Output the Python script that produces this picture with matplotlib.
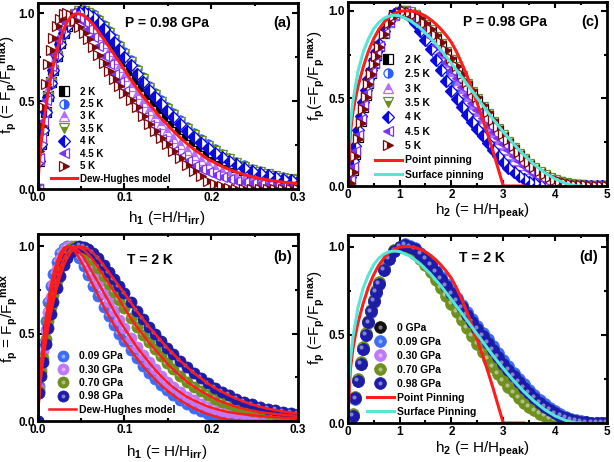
import numpy as np
import matplotlib.pyplot as plt
from matplotlib.ticker import MultipleLocator, FormatStrFormatter
from matplotlib.transforms import offset_copy
from matplotlib.legend_handler import HandlerTuple
from matplotlib.colors import to_rgb

plt.rcParams['font.family'] = ['Liberation Sans', 'DejaVu Sans']
plt.rcParams['font.weight'] = 'bold'
plt.rcParams['mathtext.fontset'] = 'custom'
plt.rcParams['mathtext.rm'] = 'Liberation Sans:bold'
plt.rcParams['mathtext.it'] = 'Liberation Sans:bold'
plt.rcParams['mathtext.bf'] = 'Liberation Sans:bold'
plt.rcParams['mathtext.default'] = 'bf'
plt.rcParams['axes.linewidth'] = 2

# ---- h1 = H/Hirr grid, panels (a) and (b)
h1 = [0.0, 0.002, 0.004, 0.006, 0.009, 0.012, 0.015, 0.018, 0.022, 0.026, 0.030, 0.034, 0.038,
      0.043, 0.048, 0.053, 0.058, 0.064, 0.070, 0.076, 0.082, 0.088, 0.094, 0.100, 0.107, 0.114,
      0.121, 0.128, 0.135, 0.142, 0.149, 0.156, 0.164, 0.172, 0.180, 0.188, 0.196, 0.204, 0.212,
      0.220, 0.229, 0.238, 0.247, 0.256, 0.265, 0.274, 0.283, 0.292, 0.300]

# panel (a): P = 0.98 GPa, different temperatures
a_2K = [0.0, 0.16, 0.26, 0.34, 0.44, 0.53, 0.61, 0.68, 0.76, 0.83, 0.89, 0.93, 0.965, 0.99, 1.0,
        0.995, 0.985, 0.96, 0.93, 0.89, 0.85, 0.81, 0.77, 0.73, 0.68, 0.63, 0.585, 0.54, 0.50, 0.46,
        0.42, 0.385, 0.345, 0.31, 0.275, 0.245, 0.215, 0.19, 0.168, 0.148, 0.128, 0.11, 0.095,
        0.082, 0.071, 0.062, 0.054, 0.048, 0.043]
a_2p5K = [0.0, 0.16, 0.255, 0.335, 0.435, 0.52, 0.60, 0.675, 0.755, 0.825, 0.885, 0.93, 0.97,
          0.995, 1.015, 1.02, 1.01, 0.995, 0.97, 0.935, 0.9, 0.86, 0.82, 0.78, 0.735, 0.685, 0.64,
          0.59, 0.55, 0.51, 0.47, 0.435, 0.393, 0.357, 0.32, 0.286, 0.257, 0.227, 0.2, 0.18, 0.157,
          0.137, 0.118, 0.103, 0.09, 0.079, 0.069, 0.061, 0.054]
a_3K = [0.0, 0.17, 0.28, 0.36, 0.47, 0.57, 0.65, 0.72, 0.80, 0.88, 0.925, 0.965, 0.988, 1.0, 0.993,
        0.98, 0.955, 0.92, 0.875, 0.83, 0.785, 0.74, 0.695, 0.645, 0.59, 0.54, 0.495, 0.45, 0.41,
        0.37, 0.33, 0.295, 0.26, 0.225, 0.195, 0.168, 0.144, 0.122, 0.104, 0.088, 0.073, 0.061,
        0.051, 0.043, 0.036, 0.031, 0.026, 0.022, 0.019]
a_3p5K = [0.0, 0.16, 0.257, 0.337, 0.437, 0.523, 0.603, 0.677, 0.757, 0.827, 0.887, 0.931, 0.969,
          0.995, 1.012, 1.015, 1.005, 0.987, 0.96, 0.925, 0.888, 0.848, 0.808, 0.768, 0.722, 0.672,
          0.627, 0.578, 0.538, 0.498, 0.458, 0.423, 0.382, 0.346, 0.31, 0.277, 0.247, 0.219, 0.193,
          0.172, 0.15, 0.13, 0.113, 0.098, 0.086, 0.075, 0.066, 0.058, 0.052]
a_4K = [0.0, 0.16, 0.258, 0.338, 0.438, 0.525, 0.605, 0.678, 0.758, 0.828, 0.888, 0.93, 0.968,
        0.993, 1.008, 1.008, 0.998, 0.978, 0.95, 0.913, 0.875, 0.835, 0.795, 0.755, 0.708, 0.658,
        0.613, 0.565, 0.525, 0.485, 0.445, 0.41, 0.369, 0.334, 0.298, 0.266, 0.236, 0.209, 0.184,
        0.164, 0.143, 0.124, 0.107, 0.093, 0.081, 0.071, 0.062, 0.055, 0.049]
a_4p5K = [0.0, 0.18, 0.29, 0.39, 0.51, 0.61, 0.70, 0.77, 0.855, 0.915, 0.96, 0.988, 1.0, 0.994,
          0.977, 0.95, 0.91, 0.865, 0.815, 0.76, 0.71, 0.655, 0.61, 0.56, 0.505, 0.455, 0.41, 0.365,
          0.32, 0.285, 0.25, 0.22, 0.187, 0.16, 0.135, 0.115, 0.098, 0.083, 0.071, 0.06, 0.05,
          0.043, 0.036, 0.03, 0.025, 0.021, 0.018, 0.015, 0.013]
a_5K = [0.0, 0.22, 0.36, 0.47, 0.60, 0.71, 0.79, 0.86, 0.93, 0.97, 0.995, 1.0, 0.99, 0.96, 0.925,
        0.89, 0.855, 0.81, 0.765, 0.72, 0.675, 0.63, 0.59, 0.55, 0.51, 0.47, 0.42, 0.37, 0.33,
        0.295, 0.26, 0.22, 0.18, 0.14, 0.105, 0.075, 0.05, 0.032, 0.018, 0.008, 0.002, 0.0, 0.0,
        0.0, 0.0, 0.0, 0.0, 0.0, 0.0]
a_dew = [0.0, 0.165, 0.27, 0.35, 0.455, 0.55, 0.635, 0.705, 0.785, 0.855, 0.91, 0.953, 0.98, 0.997,
         0.998, 0.988, 0.968, 0.937, 0.897, 0.855, 0.812, 0.768, 0.725, 0.68, 0.627, 0.578, 0.531,
         0.488, 0.447, 0.405, 0.37, 0.333, 0.295, 0.26, 0.228, 0.2, 0.172, 0.152, 0.132, 0.115,
         0.098, 0.084, 0.072, 0.062, 0.054, 0.047, 0.041, 0.037, 0.034]

# panel (b): T = 2 K, different pressures
b_009 = [0.0, 0.2, 0.33, 0.44, 0.57, 0.68, 0.77, 0.84, 0.91, 0.96, 0.99, 1.0, 0.995, 0.97, 0.93,
         0.885, 0.835, 0.775, 0.715, 0.655, 0.6, 0.55, 0.5, 0.455, 0.405, 0.36, 0.315, 0.275, 0.24,
         0.205, 0.175, 0.148, 0.12, 0.095, 0.073, 0.055, 0.04, 0.027, 0.016, 0.008, 0.003, 0.0, 0.0,
         0.0, 0.0, 0.0, 0.0, 0.0, 0.0]
b_030 = [0.0, 0.185, 0.30, 0.40, 0.52, 0.625, 0.71, 0.785, 0.87, 0.928, 0.97, 0.993, 1.0, 0.99,
         0.967, 0.935, 0.893, 0.84, 0.79, 0.735, 0.683, 0.628, 0.578, 0.53, 0.477, 0.425, 0.38,
         0.337, 0.295, 0.258, 0.224, 0.193, 0.165, 0.138, 0.118, 0.1, 0.083, 0.071, 0.06, 0.051,
         0.044, 0.038, 0.033, 0.029, 0.025, 0.022, 0.019, 0.017, 0.015]
b_070 = [0.0, 0.17, 0.28, 0.36, 0.47, 0.57, 0.65, 0.72, 0.80, 0.88, 0.925, 0.965, 0.988, 1.0, 0.993,
         0.98, 0.955, 0.92, 0.875, 0.83, 0.785, 0.74, 0.695, 0.645, 0.59, 0.54, 0.495, 0.45, 0.41,
         0.37, 0.33, 0.295, 0.26, 0.225, 0.197, 0.172, 0.149, 0.128, 0.111, 0.096, 0.081, 0.069,
         0.06, 0.051, 0.045, 0.04, 0.036, 0.032, 0.029]
b_098 = [0.0, 0.16, 0.26, 0.34, 0.44, 0.53, 0.61, 0.68, 0.76, 0.83, 0.89, 0.93, 0.965, 0.99, 1.0,
         0.995, 0.985, 0.96, 0.93, 0.89, 0.85, 0.81, 0.77, 0.73, 0.68, 0.63, 0.585, 0.54, 0.50,
         0.46, 0.42, 0.385, 0.345, 0.31, 0.275, 0.245, 0.215, 0.19, 0.168, 0.148, 0.128, 0.11,
         0.095, 0.082, 0.071, 0.062, 0.054, 0.048, 0.043]

# ---- h2 = H/Hpeak grid, panels (c) and (d)
h2 = [0.0, 0.05, 0.1, 0.15, 0.2, 0.25, 0.3, 0.35, 0.4, 0.45, 0.5, 0.55,
      0.6, 0.7, 0.8, 0.9, 1.0, 1.1, 1.2, 1.3, 1.4, 1.5,
      1.6, 1.7, 1.8, 1.9, 2.0, 2.1, 2.2, 2.3, 2.4, 2.5,
      2.6, 2.7, 2.8, 2.9, 3.0, 3.1, 3.2, 3.3, 3.4, 3.5,
      3.6, 3.7, 3.8, 3.9, 4.0, 4.1, 4.2, 4.3, 4.4, 4.5,
      4.6, 4.7, 4.8, 4.9, 5.0]

# panel (c): P = 0.98 GPa, different temperatures
c_2K = [0.0, 0.02, 0.09, 0.18, 0.28, 0.37, 0.45, 0.52, 0.59, 0.645, 0.7, 0.75,
        0.8, 0.875, 0.935, 0.975, 0.995, 1.0, 0.99, 0.97, 0.945, 0.915,
        0.88, 0.84, 0.8, 0.755, 0.71, 0.665, 0.618, 0.572, 0.527, 0.483,
        0.44, 0.398, 0.357, 0.318, 0.28, 0.243, 0.208, 0.176, 0.146, 0.119,
        0.095, 0.074, 0.056, 0.041, 0.029, 0.02, 0.013, 0.008, 0.005, 0.003,
        0.002, 0.001, 0.0, 0.0, 0.0]
c_2p5K = [0.0, 0.045, 0.13, 0.22, 0.31, 0.39, 0.47, 0.54, 0.60, 0.655, 0.71, 0.758,
          0.805, 0.88, 0.938, 0.978, 0.998, 0.995, 0.975, 0.945, 0.905, 0.86,
          0.81, 0.755, 0.7, 0.645, 0.592, 0.542, 0.495, 0.45, 0.408, 0.368,
          0.328, 0.288, 0.249, 0.212, 0.177, 0.145, 0.115, 0.089, 0.066, 0.047,
          0.032, 0.02, 0.012, 0.006, 0.003, 0.001, 0.0, 0.0, 0.0, 0.0,
          0.0, 0.0, 0.0, 0.0, 0.0]
c_3K = [0.0, 0.04, 0.12, 0.21, 0.3, 0.385, 0.465, 0.535, 0.6, 0.655, 0.708, 0.756,
        0.803, 0.878, 0.937, 0.977, 0.997, 0.997, 0.98, 0.955, 0.92, 0.88,
        0.835, 0.785, 0.735, 0.685, 0.635, 0.585, 0.538, 0.492, 0.448, 0.405,
        0.363, 0.323, 0.284, 0.247, 0.212, 0.18, 0.15, 0.122, 0.097, 0.075,
        0.056, 0.04, 0.027, 0.017, 0.01, 0.005, 0.002, 0.001, 0.0, 0.0,
        0.0, 0.0, 0.0, 0.0, 0.0]
c_3p5K = [0.0, 0.018, 0.085, 0.175, 0.275, 0.365, 0.445, 0.515, 0.585, 0.642, 0.697, 0.747,
          0.797, 0.872, 0.932, 0.972, 0.992, 1.0, 0.992, 0.975, 0.952, 0.922,
          0.888, 0.85, 0.81, 0.766, 0.722, 0.677, 0.63, 0.584, 0.539, 0.495,
          0.452, 0.409, 0.368, 0.328, 0.29, 0.253, 0.218, 0.185, 0.155, 0.127,
          0.103, 0.081, 0.062, 0.046, 0.033, 0.023, 0.016, 0.01, 0.006, 0.004,
          0.002, 0.001, 0.0, 0.0, 0.0]
c_4K = [0.0, 0.05, 0.14, 0.23, 0.32, 0.40, 0.48, 0.55, 0.61, 0.665, 0.72, 0.765,
        0.81, 0.885, 0.94, 0.98, 1.0, 0.99, 0.965, 0.93, 0.885, 0.835,
        0.78, 0.72, 0.66, 0.6, 0.545, 0.495, 0.45, 0.405, 0.365, 0.325,
        0.285, 0.245, 0.205, 0.17, 0.135, 0.105, 0.078, 0.056, 0.038, 0.025,
        0.015, 0.008, 0.004, 0.001, 0.0, 0.0, 0.0, 0.0, 0.0, 0.0,
        0.0, 0.0, 0.0, 0.0, 0.0]
c_4p5K = [0.0, 0.035, 0.11, 0.2, 0.29, 0.38, 0.46, 0.53, 0.595, 0.652, 0.705, 0.753,
          0.8, 0.876, 0.935, 0.975, 0.996, 0.998, 0.985, 0.962, 0.93, 0.893,
          0.851, 0.805, 0.758, 0.71, 0.662, 0.614, 0.567, 0.521, 0.476, 0.433,
          0.391, 0.35, 0.311, 0.273, 0.237, 0.203, 0.171, 0.141, 0.114, 0.09,
          0.069, 0.051, 0.036, 0.024, 0.015, 0.009, 0.005, 0.002, 0.001, 0.0,
          0.0, 0.0, 0.0, 0.0, 0.0]
c_5K = [0.0, 0.015, 0.08, 0.17, 0.27, 0.36, 0.44, 0.51, 0.58, 0.64, 0.695, 0.745,
        0.795, 0.87, 0.93, 0.97, 0.99, 1.0, 0.995, 0.98, 0.958, 0.93,
        0.897, 0.86, 0.82, 0.777, 0.733, 0.688, 0.642, 0.596, 0.551, 0.507,
        0.463, 0.42, 0.378, 0.338, 0.299, 0.262, 0.227, 0.194, 0.163, 0.135,
        0.11, 0.087, 0.068, 0.051, 0.037, 0.026, 0.018, 0.012, 0.008, 0.005,
        0.003, 0.002, 0.001, 0.0, 0.0]

# point pinning and surface pinning curves
pp_h = [0.0, 0.05, 0.1, 0.15, 0.2, 0.3, 0.4, 0.5, 0.6, 0.7, 0.8, 0.9, 1.0, 1.1, 1.2, 1.3, 1.4, 1.5,
        1.6, 1.7, 1.8, 1.9, 2.0, 2.1, 2.2, 2.3, 2.4, 2.5, 2.6, 2.7, 2.8, 2.9, 3.0, 3.2, 3.4]
pp_f = [0.0, 0.3, 0.42, 0.5, 0.57, 0.68, 0.77, 0.84, 0.895, 0.935, 0.965, 0.985, 0.997, 1.0, 1.0,
        0.995, 0.985, 0.97, 0.95, 0.925, 0.895, 0.86, 0.82, 0.765, 0.70, 0.63, 0.55, 0.47, 0.385,
        0.295, 0.2, 0.1, 0.0, 0.0, 0.0]
sp_h = [0.0, 0.02, 0.05, 0.1, 0.2, 0.3, 0.4, 0.5, 0.6, 0.7, 0.8, 0.9, 1.0, 1.2, 1.4, 1.6, 1.8, 2.0,
        2.2, 2.4, 2.6, 2.8, 3.0, 3.2, 3.4, 3.6, 3.8, 4.0, 4.2, 4.4, 4.5]
sp_f = [0.0, 0.23, 0.35, 0.485, 0.657, 0.766, 0.84, 0.897, 0.934, 0.958, 0.971, 0.975, 0.972,
        0.946, 0.902, 0.844, 0.776, 0.70, 0.622, 0.542, 0.462, 0.383, 0.309, 0.24, 0.177, 0.122,
        0.076, 0.04, 0.015, 0.001, 0.0]

# panel (d): T = 2 K, different pressures
d_0 = [0.0, 0.0, 0.042, 0.142, 0.242, 0.337, 0.422, 0.502, 0.572, 0.635, 0.692, 0.744,
       0.792, 0.872, 0.932, 0.976, 1.0, 1.008, 0.997, 0.98, 0.953, 0.922,
       0.886, 0.845, 0.803, 0.762, 0.72, 0.679, 0.638, 0.597, 0.556, 0.515,
       0.474, 0.433, 0.393, 0.353, 0.315, 0.279, 0.244, 0.212, 0.181, 0.152,
       0.126, 0.102, 0.081, 0.063, 0.047, 0.034, 0.023, 0.015, 0.009, 0.005,
       0.002, 0.001, 0.0, 0.0, 0.0]
d_009 = [0.0, 0.0, 0.038, 0.138, 0.238, 0.332, 0.418, 0.497, 0.567, 0.63, 0.687, 0.739,
         0.787, 0.868, 0.928, 0.973, 0.998, 1.012, 1.005, 0.99, 0.966, 0.937,
         0.903, 0.864, 0.825, 0.786, 0.747, 0.708, 0.669, 0.63, 0.591, 0.552,
         0.513, 0.474, 0.435, 0.396, 0.358, 0.321, 0.285, 0.251, 0.219, 0.188,
         0.159, 0.132, 0.107, 0.085, 0.066, 0.049, 0.035, 0.024, 0.015, 0.009,
         0.005, 0.002, 0.001, 0.0, 0.0]
d_030 = [0.0, 0.0, 0.045, 0.145, 0.245, 0.34, 0.425, 0.505, 0.575, 0.638, 0.695, 0.747,
         0.795, 0.875, 0.935, 0.978, 1.0, 1.005, 0.993, 0.973, 0.945, 0.913,
         0.875, 0.833, 0.79, 0.748, 0.705, 0.663, 0.62, 0.578, 0.535, 0.493,
         0.45, 0.409, 0.368, 0.328, 0.29, 0.253, 0.219, 0.188, 0.158, 0.131,
         0.107, 0.085, 0.066, 0.05, 0.036, 0.025, 0.017, 0.011, 0.006, 0.003,
         0.002, 0.001, 0.0, 0.0, 0.0]
d_070 = [0.0, 0.0, 0.05, 0.15, 0.25, 0.345, 0.43, 0.51, 0.58, 0.643, 0.7, 0.752,
         0.8, 0.88, 0.94, 0.98, 1.0, 1.0, 0.985, 0.96, 0.93, 0.895,
         0.855, 0.81, 0.765, 0.72, 0.675, 0.63, 0.585, 0.54, 0.495, 0.45,
         0.405, 0.362, 0.32, 0.28, 0.242, 0.206, 0.173, 0.143, 0.116, 0.092,
         0.071, 0.053, 0.038, 0.026, 0.017, 0.01, 0.006, 0.003, 0.001, 0.0,
         0.0, 0.0, 0.0, 0.0, 0.0]
d_098 = [0.0, 0.0, 0.04, 0.14, 0.24, 0.335, 0.42, 0.5, 0.57, 0.633, 0.69, 0.742,
         0.79, 0.87, 0.93, 0.975, 1.0, 1.01, 1.0, 0.985, 0.96, 0.93,
         0.895, 0.855, 0.815, 0.775, 0.735, 0.695, 0.655, 0.615, 0.575, 0.535,
         0.495, 0.455, 0.415, 0.375, 0.337, 0.3, 0.265, 0.232, 0.2, 0.17,
         0.142, 0.116, 0.093, 0.073, 0.055, 0.04, 0.028, 0.018, 0.011, 0.006,
         0.003, 0.001, 0.0, 0.0, 0.0]

temps = ['2 K', '2.5 K', '3 K', '3.5 K', '4 K', '4.5 K', '5 K']
pressures_b = ['0.09 GPa', '0.30 GPa', '0.70 GPa', '0.98 GPa']
pressures_d = ['0 GPa', '0.09 GPa', '0.30 GPa', '0.70 GPa', '0.98 GPa']

RED = '#ff1c1c'
CYAN = '#55e6d6'
t_styles = [('s', 'black', 'left'), ('o', '#2a5cff', 'right'), ('^', '#b56eff', 'top'),
            ('v', '#6b8e23', 'bottom'), ('D', '#0a0adc', 'left'), ('<', '#7b35f0', 'left'),
            ('>', '#7a0a0a', 'right')]
p_colors = {'0 GPa': '#111111', '0.09 GPa': '#3d6cf5', '0.30 GPa': '#c277f5',
            '0.70 GPa': '#6f8f1f', '0.98 GPa': '#1c1ca8'}

fig = plt.figure(figsize=(6.14, 4.62), dpi=100)
ax_a = fig.add_axes([0.0614, 0.590, 0.424, 0.4037])
ax_c = fig.add_axes([0.5663, 0.5974, 0.4223, 0.398])
ax_b = fig.add_axes([0.0614, 0.0887, 0.424, 0.4048])
ax_d = fig.add_axes([0.5663, 0.0844, 0.4223, 0.407])


def style(ax, xmax, xstep, ytop, xfmt):
    ax.set_xlim(0, xmax)
    ax.set_ylim(0, ytop)
    ax.xaxis.set_major_locator(MultipleLocator(xstep))
    ax.xaxis.set_minor_locator(MultipleLocator(xstep / 2))
    ax.yaxis.set_major_locator(MultipleLocator(0.5))
    ax.yaxis.set_minor_locator(MultipleLocator(0.25))
    ax.xaxis.set_major_formatter(FormatStrFormatter(xfmt))
    ax.yaxis.set_major_formatter(FormatStrFormatter('%.1f'))
    ax.tick_params(which='both', direction='in', top=True, right=True, width=1.5,
                   labelsize=8.5, pad=2)
    ax.tick_params(which='major', length=4)
    ax.tick_params(which='minor', length=2.5)


def labels(ax, xl, yl, xpos, ypos):
    ax.set_xlabel(xl, fontsize=11, va='center')
    ax.set_ylabel(yl, fontsize=11, va='center')
    ax.xaxis.set_label_coords(*xpos)
    ax.yaxis.set_label_coords(*ypos)


def balls(ax, x, series, names, ms):
    # shaded spheres: coloured disc plus a small light spot up-left
    shift = offset_copy(ax.transData, fig=fig, x=-1.3, y=1.3, units='points')
    handles = []
    for lab, y in zip(names, series):
        col = p_colors[lab]
        light = tuple(0.55 * c + 0.45 for c in to_rgb(col))
        main, = ax.plot(x, y, ls='none', marker='o', ms=ms, mfc=col, mec=col, mew=0.5)
        spot, = ax.plot(x, y, ls='none', marker='o', ms=ms * 0.35, mfc=light, mec='none',
                        transform=shift)
        handles.append((main, spot))
    return handles


# (a)
for lab, y, (m, col, fs) in zip(temps, [a_2K, a_2p5K, a_3K, a_3p5K, a_4K, a_4p5K, a_5K], t_styles):
    ax_a.plot(h1, y, ls='none', marker=m, ms=6.5, mfc=col, mfcalt='white', mec=col, mew=0.9,
              fillstyle=fs, label=lab)
ax_a.plot(h1, a_dew, color=RED, lw=2.2, label='Dew-Hughes model')
style(ax_a, 0.3, 0.1, 1.06, '%.1f')
ax_a.legend(loc='lower left', bbox_to_anchor=(0.03, 0.0), frameon=False, fontsize=7,
            handlelength=2.6, handletextpad=0.3, labelspacing=0.25, borderaxespad=0.2,
            numpoints=1)
labels(ax_a, 'h$_1$ (=H/H$_{irr}$)', 'f$_p$ (= F$_p$/F$_p$$^{max}$)', (0.497, -0.153), (-0.11, 0.56))
ax_a.text(0.497, 0.893, 'P = 0.98 GPa', transform=ax_a.transAxes, ha='center', va='center',
          fontsize=10)
ax_a.text(0.94, 0.893, '(a)', transform=ax_a.transAxes, ha='center', va='center', fontsize=10.5)

# (c)
for lab, y, (m, col, fs) in zip(temps, [c_2K, c_2p5K, c_3K, c_3p5K, c_4K, c_4p5K, c_5K], t_styles):
    ax_c.plot(h2, y, ls='none', marker=m, ms=6.5, mfc=col, mfcalt='white', mec=col, mew=0.9,
              fillstyle=fs, label=lab)
ax_c.plot(pp_h, pp_f, color=RED, lw=2.2, label='Point pinning')
ax_c.plot(sp_h, sp_f, color=CYAN, lw=2.2, label='Surface pinning')
style(ax_c, 5, 1, 1.05, '%d')
ax_c.legend(loc='lower left', bbox_to_anchor=(0.08, 0.0), frameon=False, fontsize=7.5,
            handlelength=2.6, handletextpad=0.3, labelspacing=0.42, borderaxespad=0.2,
            numpoints=1)
labels(ax_c, 'h$_2$ (= H/H$_{peak}$)', 'f$_p$(=F$_p$/F$_p$$^{max}$)', (0.52, -0.14), (-0.118, 0.6))
ax_c.text(0.607, 0.891, 'P = 0.98 GPa', transform=ax_c.transAxes, ha='center', va='center',
          fontsize=10)
ax_c.text(0.936, 0.891, '(c)', transform=ax_c.transAxes, ha='center', va='center', fontsize=10.5)

# (b)
hb = balls(ax_b, h1, [b_009, b_030, b_070, b_098], pressures_b, 8)
for i, y in enumerate([b_009, b_030, b_070, b_098]):
    r, = ax_b.plot(h1, y, color=RED, lw=1.8)
    if i == 0:
        red_b = r
style(ax_b, 0.3, 0.1, 1.07, '%.1f')
ax_b.legend(hb + [red_b], pressures_b + ['Dew-Hughes model'], loc='lower left',
            bbox_to_anchor=(0.02, 0.0), frameon=False, fontsize=7.5, handlelength=2.6,
            handletextpad=0.3, labelspacing=0.32, borderaxespad=0.2, numpoints=1,
            handler_map={tuple: HandlerTuple(ndivide=1)})
labels(ax_b, 'h$_1$ (= H/H$_{irr}$)', 'f$_p$ = F$_p$/F$_p$$^{max}$', (0.497, -0.166), (-0.108, 0.55))
ax_b.text(0.432, 0.861, 'T = 2 K', transform=ax_b.transAxes, ha='center', va='center',
          fontsize=10)
ax_b.text(0.94, 0.877, '(b)', transform=ax_b.transAxes, ha='center', va='center', fontsize=10.5)

# (d)
hd = balls(ax_d, h2, [d_0, d_009, d_030, d_070, d_098], pressures_d, 8.5)
r_d, = ax_d.plot(pp_h, pp_f, color=RED, lw=2.2)
s_d, = ax_d.plot(sp_h, sp_f, color=CYAN, lw=2.2)
style(ax_d, 5, 1, 1.066, '%d')
ax_d.legend(hd + [r_d, s_d], pressures_d + ['Point Pinning', 'Surface Pinning'],
            loc='lower left', bbox_to_anchor=(0.05, 0.0), frameon=False, fontsize=7.5,
            handlelength=2.6, handletextpad=0.3, labelspacing=0.38, borderaxespad=0.2,
            numpoints=1, handler_map={tuple: HandlerTuple(ndivide=1)})
labels(ax_d, 'h$_2$ (= H/H$_{peak}$)', 'f$_p$ (=F$_p$/F$_p$$^{max}$)', (0.52, -0.14), (-0.118, 0.56))
ax_d.text(0.519, 0.878, 'T = 2 K', transform=ax_d.transAxes, ha='center', va='center',
          fontsize=10)
ax_d.text(0.928, 0.883, '(d)', transform=ax_d.transAxes, ha='center', va='center', fontsize=10.5)

fig.savefig('out.png', dpi=100)
